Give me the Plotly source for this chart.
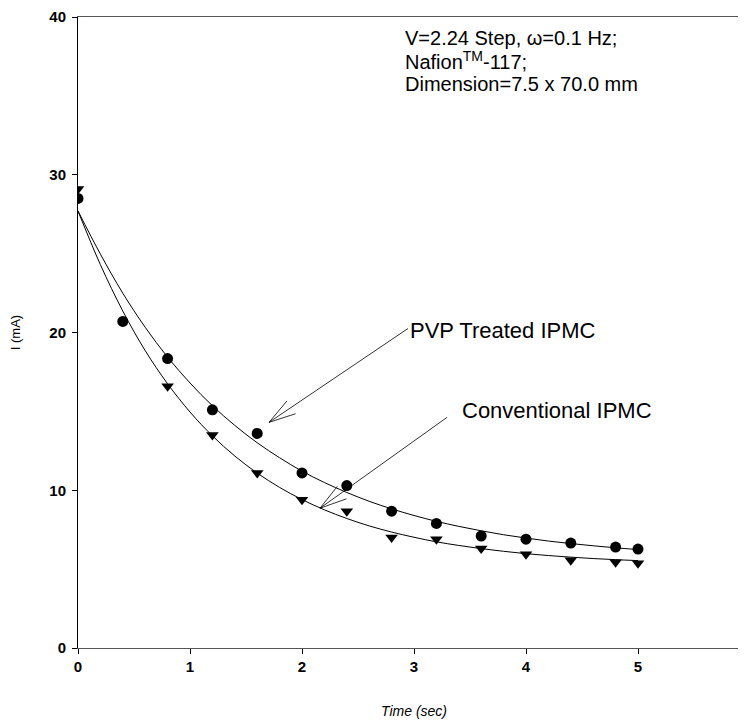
import math
import plotly.graph_objects as go

# measured points
t_pvp = [0, 0.4, 0.8, 1.2, 1.6, 2.0, 2.4, 2.8, 3.2, 3.6, 4.0, 4.4, 4.8, 5.0]
i_pvp = [28.5, 20.7, 18.35, 15.1, 13.6, 11.1, 10.3, 8.67, 7.9, 7.1, 6.9, 6.65, 6.4, 6.27]

t_conv = [0, 0.8, 1.2, 1.6, 2.0, 2.4, 2.8, 3.2, 3.6, 4.0, 4.4, 4.8, 5.0]
i_conv = [29.1, 16.6, 13.5, 11.1, 9.4, 8.67, 7.0, 6.9, 6.3, 5.95, 5.57, 5.44, 5.38]

# fitted curves
t_fit = [0, 0.2, 0.4, 0.6, 0.8, 1.0, 1.2, 1.4, 1.6, 1.8, 2.0, 2.2, 2.4, 2.6, 2.8,
         3.0, 3.2, 3.4, 3.6, 3.8, 4.0, 4.2, 4.4, 4.6, 4.8, 5.0]
fit_pvp = [27.7, 24.97, 22.49, 20.33, 18.44, 16.80, 15.36, 14.11, 13.01, 12.06, 11.21,
           10.49, 9.86, 9.30, 8.82, 8.40, 8.03, 7.71, 7.43, 7.18, 6.97, 6.78, 6.62,
           6.48, 6.35, 6.24]
fit_conv = [27.7, 24.30, 21.36, 18.85, 16.75, 14.96, 13.45, 12.17, 11.09, 10.18, 9.41,
            8.76, 8.21, 7.74, 7.35, 7.02, 6.73, 6.50, 6.30, 6.13, 5.98, 5.86, 5.76,
            5.67, 5.60, 5.54]

x_ticks = [0, 1, 2, 3, 4, 5, 6]
y_ticks = [0, 10, 20, 30, 40]

info_lines = ["V=2.24 Step, \u03c9=0.1 Hz;", "Nafion<sup>TM</sup>-117;", "Dimension=7.5 x 70.0 mm"]
label_pvp = "PVP Treated IPMC"
label_conv = "Conventional IPMC"

FONT = "Arial, 'Liberation Sans', sans-serif"

# page geometry (page has an 8px body offset)
OFF = 8
X0, PXU = 78, 112.0      # page px of x=0, px per x unit
Y0, PYU = 648, 15.8      # page px of y=0, px per y unit


def dx(px):
    return (px - X0) / PXU


def dy(py):
    return (Y0 - py) / PYU


fig = go.Figure()
fig.add_trace(go.Scatter(x=t_fit, y=fit_pvp, mode="lines", line=dict(color="black", width=1, shape="spline"),
                         showlegend=False, hoverinfo="skip"))
fig.add_trace(go.Scatter(x=t_fit, y=fit_conv, mode="lines", line=dict(color="black", width=1, shape="spline"),
                         showlegend=False, hoverinfo="skip"))
fig.add_trace(go.Scatter(x=t_conv, y=i_conv, mode="markers", name=label_conv,
                         marker=dict(symbol="triangle-down", size=11, color="black"), showlegend=False))
fig.add_trace(go.Scatter(x=t_pvp, y=i_pvp, mode="markers", name=label_pvp,
                         marker=dict(symbol="circle", size=11, color="black"), showlegend=False))

fig.update_layout(
    width=746, height=716,
    margin=dict(l=X0 - OFF, r=4, t=17 - OFF, b=716 - (17 - OFF) - (Y0 - 17)),
    paper_bgcolor="white", plot_bgcolor="white",
    font=dict(family=FONT, color="black"),
    xaxis=dict(range=[0, 6], tickvals=x_ticks, ticks="outside", ticklen=5, tickcolor="black",
               showgrid=False, zeroline=False, showline=True, linecolor="#555", linewidth=1,
               mirror=True, automargin=False, tickfont=dict(size=15, weight="bold", color="black"),
               title=dict(text="<i>Time (sec)</i>", font=dict(size=14), standoff=32)),
    yaxis=dict(range=[0, 40], tickvals=y_ticks, ticks="outside", ticklen=5, tickcolor="black",
               showgrid=False, zeroline=False, showline=True, linecolor="black", linewidth=1,
               automargin=False, ticklabelstandoff=3,
               tickfont=dict(size=15, weight="bold", color="black"),
               title=dict(text="I (mA)", font=dict(size=13), standoff=34)),
)

for txt, py in zip(info_lines, [37, 60, 83]):
    fig.add_annotation(x=dx(403), y=dy(py), xref="x", yref="y", xanchor="left", yanchor="middle",
                       showarrow=False, align="left", text=txt, font=dict(size=20))

fig.add_annotation(x=dx(408), y=dy(330), xref="x", yref="y", xanchor="left", yanchor="middle",
                   showarrow=False, text=label_pvp, font=dict(size=22))
fig.add_annotation(x=dx(460), y=dy(410), xref="x", yref="y", xanchor="left", yanchor="middle",
                   showarrow=False, text=label_conv, font=dict(size=22))


def open_arrow(tail, head, barb=28, ang=16):
    """Pointer line with an open V head, endpoints given in page pixels."""
    tx, ty = tail
    hx, hy = head
    L = math.hypot(tx - hx, ty - hy)
    ux, uy = (tx - hx) / L, (ty - hy) / L
    segs = [(tail, head)]
    for s in (1, -1):
        a = math.radians(ang * s)
        bx = ux * math.cos(a) - uy * math.sin(a)
        by = ux * math.sin(a) + uy * math.cos(a)
        segs.append(((hx + barb * bx, hy + barb * by), head))
    for (p0, p1) in segs:
        fig.add_shape(type="line", xref="x", yref="y",
                      x0=dx(p0[0]), y0=dy(p0[1]), x1=dx(p1[0]), y1=dy(p1[1]),
                      line=dict(color="black", width=0.8))


open_arrow((408, 328), (269, 422))
open_arrow((447, 417), (320, 508))

fig.write_html("out.html")
